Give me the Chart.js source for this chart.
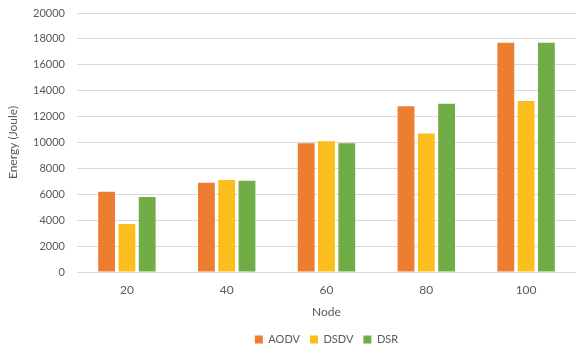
<!DOCTYPE html>
<html>
<head>
<meta charset="utf-8">
<script src="https://cdn.jsdelivr.net/npm/chart.js@4"></script>
<style>
  html, body { margin: 0; padding: 0; background: #fff; }
  #wrap { width: 576px; height: 349px; position: relative; }
</style>
</head>
<body>
<div id="wrap"><canvas id="c"></canvas></div>
<script>
// energy consumption per routing protocol vs node count
const nodes = ["20", "40", "60", "80", "100"];
const aodv = [6200, 6900, 9950, 12800, 17700];
const dsdv = [3700, 7100, 10100, 10700, 13200];
const dsr = [5800, 7050, 9950, 13000, 17700];

const gray = "#595959";
Chart.defaults.font.family = "Lato, 'Open Sans', sans-serif";
Chart.defaults.color = gray;

function series(label, data, color) {
  return {
    label, data,
    backgroundColor: color,
    borderWidth: 0,
    barPercentage: 0.83,
    categoryPercentage: 0.61,
  };
}

// pin the legend box height so the items sit near the bottom edge
const legendHeight = {
  id: "legendHeight",
  beforeLayout(chart) {
    const lg = chart.legend;
    if (!lg || lg._pinned) return;
    const fit = lg.fit;
    lg.fit = function () { fit.call(this); this.height = 25; };
    lg._pinned = true;
  },
};

new Chart(document.getElementById("c"), {
  type: "bar",
  data: {
    labels: nodes,
    datasets: [
      series("AODV", aodv, "#ED7D31"),
      series("DSDV", dsdv, "#FBBE1C"),
      series("DSR", dsr, "#70AD47"),
    ],
  },
  plugins: [legendHeight],
  options: {
    responsive: true,
    maintainAspectRatio: false,
    animation: false,
    layout: { padding: { left: 6, right: 0, top: 13, bottom: 0 } },
    plugins: {
      tooltip: { enabled: false },
      legend: {
        position: "bottom",
        fullSize: false,
        labels: { boxWidth: 8, boxHeight: 8, padding: 10, font: { size: 11 }, color: gray },
      },
    },
    scales: {
      x: {
        grid: { display: false },
        border: { display: false },
        ticks: { font: { size: 12 }, padding: 3 },
        title: { display: true, text: "Node", font: { size: 12 }, padding: { top: 5, bottom: 5 } },
        afterFit: s => { s.height = 52; },
      },
      y: {
        min: 0, max: 20000,
        ticks: { stepSize: 2000, font: { size: 11 }, padding: 12, callback: v => String(v) },
        grid: { color: "#D9D9D9", drawTicks: false },
        border: { display: false },
        title: { display: true, text: "Energy (Joule)", font: { size: 12 }, padding: { top: 0, bottom: 2 } },
        afterFit: s => { s.width = 71; s.paddingTop = 0; s.paddingBottom = 0; },
      },
    },
  },
});
</script>
</body>
</html>
